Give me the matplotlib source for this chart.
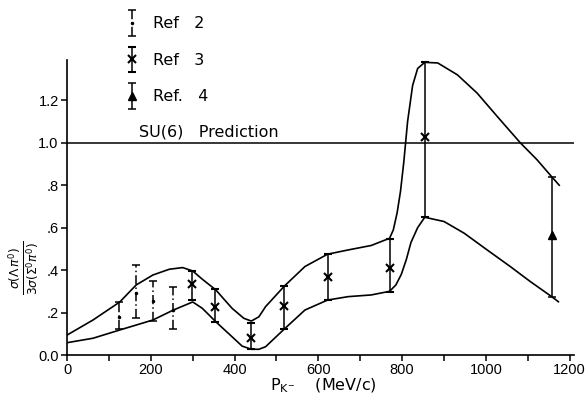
import matplotlib
matplotlib.use("Agg")
import matplotlib.pyplot as plt
from matplotlib.ticker import MultipleLocator, FixedLocator, FixedFormatter
from matplotlib.container import ErrorbarContainer
from matplotlib.legend_handler import HandlerErrorbar

# envelope curves (P_K- in MeV/c, ratio)
upper_p = [0, 62, 126, 165, 205, 244, 276, 300, 323, 355, 394, 422, 440, 458,
           474, 519, 568, 622, 671, 726, 770, 779, 788, 796, 804, 813, 825,
           837, 854, 885, 932, 979, 1027, 1082, 1122, 1157, 1175]
upper_r = [0.094, 0.165, 0.25, 0.33, 0.377, 0.404, 0.412, 0.396, 0.357, 0.307,
           0.22, 0.173, 0.16, 0.18, 0.228, 0.325, 0.417, 0.475, 0.495, 0.516,
           0.55, 0.59, 0.67, 0.77, 0.91, 1.10, 1.27, 1.35, 1.379, 1.376, 1.32,
           1.234, 1.124, 1.0, 0.92, 0.84, 0.80]

lower_p = [0, 62, 126, 205, 254, 300, 323, 355, 394, 418, 440, 458, 474, 519,
           568, 622, 671, 726, 770, 785, 798, 810, 821, 837, 854, 900, 948,
           1003, 1058, 1106, 1157, 1173]
lower_r = [0.058, 0.079, 0.118, 0.165, 0.212, 0.25, 0.22, 0.157, 0.086, 0.042,
           0.027, 0.027, 0.039, 0.123, 0.212, 0.259, 0.275, 0.283, 0.30, 0.33,
           0.38, 0.45, 0.53, 0.60, 0.649, 0.629, 0.574, 0.495, 0.417, 0.346,
           0.275, 0.251]

# Ref 2
ref2_p = [124, 165, 205, 254]
ref2_r = [0.18, 0.294, 0.255, 0.212]
ref2_hi = [0.25, 0.425, 0.35, 0.322]
ref2_lo = [0.121, 0.173, 0.162, 0.121]

# Ref 3
ref3_p = [298, 353, 440, 519, 622, 770, 854]
ref3_r = [0.333, 0.228, 0.082, 0.231, 0.366, 0.409, 1.027]
ref3_hi = [0.398, 0.311, 0.149, 0.325, 0.475, 0.546, 1.379]
ref3_lo = [0.26, 0.157, 0.027, 0.123, 0.259, 0.299, 0.649]

# Ref 4
ref4_p = [1157]
ref4_r = [0.566]
ref4_hi = [0.84]
ref4_lo = [0.275]

y_ticks = [0.0, 0.2, 0.4, 0.6, 0.8, 1.0, 1.2]
y_labels = ["0.0", ".2", ".4", ".6", ".8", "1.0", "1.2"]
x_ticks = [0, 200, 400, 600, 800, 1000, 1200]


def errs(r, lo, hi):
    return [[a - b for a, b in zip(r, lo)], [b - a for a, b in zip(r, hi)]]


plt.rcParams["font.family"] = "Liberation Sans"
fig = plt.figure(figsize=(5.88, 3.96), dpi=100)
ax = fig.add_axes([0.114, 0.1035, 0.862, 0.745])

ax.plot(upper_p, upper_r, color="black", lw=1.2)
ax.plot(lower_p, lower_r, color="black", lw=1.2)
ax.axhline(1.0, color="black", lw=1.1)
ax.text(173, 1.015, "SU(6)   Prediction", fontsize=11.5, family="DejaVu Sans",
        ha="left", va="bottom")

e2 = ax.errorbar(ref2_p, ref2_r, yerr=errs(ref2_r, ref2_lo, ref2_hi), fmt=".",
                 color="black", ms=3, elinewidth=1.1, capsize=3, capthick=1.1)
e2[2][0].set_linestyle((0, (6, 2, 1, 2)))
e3 = ax.errorbar(ref3_p, ref3_r, yerr=errs(ref3_r, ref3_lo, ref3_hi), fmt="x",
                 color="black", ms=6, mew=1.5, elinewidth=1.1, capsize=3, capthick=1.1)
e4 = ax.errorbar(ref4_p, ref4_r, yerr=errs(ref4_r, ref4_lo, ref4_hi), fmt="^",
                 color="black", ms=6, elinewidth=1.1, capsize=3, capthick=1.1)

ax.set_xlim(0, 1210)
ax.set_ylim(0, 1.39)
ax.xaxis.set_major_locator(FixedLocator(x_ticks))
ax.xaxis.set_minor_locator(MultipleLocator(100))
ax.yaxis.set_major_locator(FixedLocator(y_ticks))
ax.yaxis.set_major_formatter(FixedFormatter(y_labels))
ax.tick_params(which="both", direction="out", length=4, width=1.1, labelsize=10.5, pad=2)
for side in ["top", "right"]:
    ax.spines[side].set_visible(False)
for side in ["left", "bottom"]:
    ax.spines[side].set_linewidth(1.2)

ax.set_xlabel(r"P$_{\mathrm{K}^{-}}$    (MeV/c)", fontsize=11.5, labelpad=0,
              family="DejaVu Sans")
ax.xaxis.set_label_coords(0.505, -0.072)
ax.xaxis.label.set_va("top")
ax.set_ylabel(r"$\frac{\sigma(\Lambda\,\pi^0)}{3\sigma(\Sigma^0\pi^0)}$",
              fontsize=12.5)
ax.yaxis.set_label_coords(-0.05, 0.295)

fig.legend([e2, e3, e4], ["Ref   2", "Ref   3", "Ref.   4"],
           loc="upper left", bbox_to_anchor=(0.19, 0.995), frameon=False,
           prop={"family": "DejaVu Sans", "size": 11.5},
           handlelength=0.8, handletextpad=0.9, labelspacing=1.35,
           handler_map={ErrorbarContainer: HandlerErrorbar(yerr_size=0.8)})

fig.savefig("out.png", dpi=100, facecolor="white")
